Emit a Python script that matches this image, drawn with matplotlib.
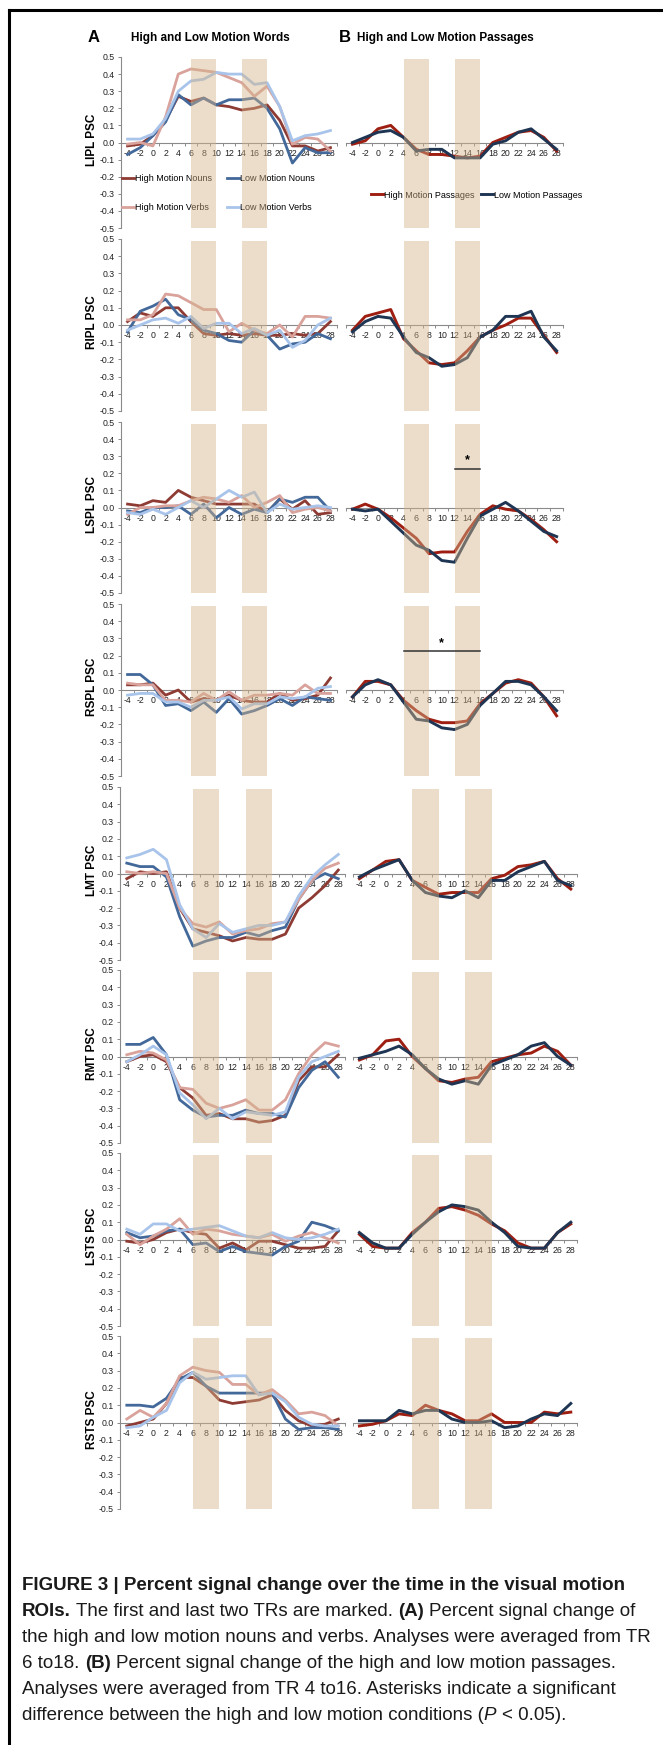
import matplotlib
matplotlib.use('Agg')
import matplotlib.pyplot as plt
from matplotlib.lines import Line2D

W, H = 663, 1745
FONT = 'Liberation Sans'
plt.rcParams['font.family'] = [FONT, 'DejaVu Sans']

# time points (TR)
tr = list(range(-4, 30, 2))
regions = ['LIPL', 'RIPL', 'LSPL', 'RSPL', 'LMT', 'RMT', 'LSTS', 'RSTS']

# --- words (A): high/low motion nouns and verbs;  passages (B): high/low ---
lipl_hn = [-0.02, -0.01, 0.04, 0.13, 0.27, 0.24, 0.26, 0.22, 0.21, 0.19, 0.20, 0.22, 0.13, -0.02, -0.02, -0.05, -0.03]
lipl_ln = [-0.07, -0.03, 0.04, 0.12, 0.28, 0.22, 0.26, 0.22, 0.25, 0.25, 0.26, 0.20, 0.08, -0.12, -0.03, -0.06, -0.06]
lipl_hv = [-0.01, 0.00, -0.02, 0.15, 0.40, 0.43, 0.42, 0.41, 0.38, 0.35, 0.27, 0.33, 0.21, -0.01, 0.03, 0.02, -0.05]
lipl_lv = [0.02, 0.02, 0.05, 0.14, 0.30, 0.36, 0.37, 0.41, 0.40, 0.40, 0.34, 0.35, 0.21, 0.01, 0.04, 0.05, 0.07]
lipl_hp = [-0.01, 0.01, 0.08, 0.10, 0.03, -0.04, -0.07, -0.07, -0.08, -0.09, -0.08, 0.00, 0.03, 0.06, 0.07, 0.03, -0.05]
lipl_lp = [0.00, 0.03, 0.06, 0.07, 0.03, -0.05, -0.04, -0.04, -0.09, -0.09, -0.09, -0.01, 0.01, 0.06, 0.08, 0.02, -0.04]

ripl_hn = [0.02, 0.07, 0.05, 0.10, 0.10, 0.02, -0.05, -0.06, -0.05, -0.06, -0.05, -0.06, -0.06, -0.05, -0.06, -0.05, 0.02]
ripl_ln = [-0.04, 0.08, 0.11, 0.15, 0.06, 0.03, -0.03, -0.05, -0.09, -0.10, -0.03, -0.06, -0.14, -0.11, -0.10, -0.05, -0.08]
ripl_hv = [0.03, 0.03, 0.06, 0.18, 0.17, 0.13, 0.09, 0.09, -0.04, 0.01, -0.03, -0.05, 0.00, -0.07, 0.05, 0.05, 0.04]
ripl_lv = [-0.03, 0.00, 0.03, 0.04, 0.01, 0.05, -0.02, 0.01, 0.01, -0.05, -0.02, -0.06, -0.03, -0.13, -0.09, 0.00, 0.04]
ripl_hp = [-0.03, 0.05, 0.07, 0.09, -0.08, -0.15, -0.22, -0.23, -0.22, -0.15, -0.07, -0.03, 0.00, 0.04, 0.04, -0.06, -0.16]
ripl_lp = [-0.04, 0.02, 0.05, 0.04, -0.07, -0.16, -0.19, -0.24, -0.23, -0.19, -0.07, -0.03, 0.05, 0.05, 0.08, -0.07, -0.15]

lspl_hn = [0.02, 0.01, 0.04, 0.03, 0.10, 0.06, 0.04, 0.02, 0.02, 0.02, 0.02, -0.03, 0.05, -0.01, 0.04, -0.04, -0.03]
lspl_ln = [-0.02, -0.03, 0.00, 0.00, 0.01, -0.04, 0.02, -0.06, 0.00, -0.04, -0.01, -0.03, 0.05, 0.03, 0.06, 0.06, -0.02]
lspl_hv = [-0.04, 0.00, 0.00, 0.01, 0.01, 0.04, 0.06, 0.05, 0.03, 0.07, 0.00, 0.03, 0.07, -0.03, -0.01, 0.00, -0.02]
lspl_lv = [-0.03, -0.04, -0.01, -0.04, 0.00, 0.04, 0.00, 0.05, 0.10, 0.06, 0.09, -0.03, 0.02, -0.01, 0.00, 0.01, 0.00]
lspl_hp = [-0.01, 0.02, -0.01, -0.06, -0.12, -0.18, -0.27, -0.26, -0.26, -0.14, -0.04, 0.01, -0.01, -0.02, -0.07, -0.13, -0.20]
lspl_lp = [-0.01, -0.02, -0.01, -0.08, -0.15, -0.22, -0.25, -0.31, -0.32, -0.18, -0.05, -0.01, 0.03, -0.02, -0.08, -0.14, -0.17]

rspl_hn = [0.03, 0.03, 0.04, -0.03, 0.00, -0.07, -0.05, -0.06, -0.03, -0.06, -0.07, -0.07, -0.02, -0.06, -0.05, -0.03, 0.07]
rspl_ln = [0.09, 0.09, 0.03, -0.09, -0.08, -0.12, -0.07, -0.13, -0.05, -0.14, -0.12, -0.09, -0.05, -0.09, -0.04, -0.05, -0.06]
rspl_hv = [0.04, 0.03, 0.03, -0.06, -0.06, -0.07, -0.02, -0.06, -0.01, -0.06, -0.03, -0.03, -0.02, -0.03, 0.03, -0.02, -0.02]
rspl_lv = [-0.03, -0.02, -0.02, -0.07, -0.07, -0.10, -0.06, -0.06, -0.04, -0.11, -0.08, -0.08, -0.04, -0.05, -0.04, 0.01, 0.02]
rspl_hp = [-0.04, 0.05, 0.05, 0.03, -0.06, -0.12, -0.17, -0.19, -0.19, -0.18, -0.08, -0.02, 0.04, 0.06, 0.04, -0.04, -0.15]
rspl_lp = [-0.04, 0.03, 0.06, 0.03, -0.07, -0.17, -0.18, -0.22, -0.23, -0.20, -0.09, -0.02, 0.05, 0.05, 0.03, -0.04, -0.12]

lmt_hn = [-0.03, 0.01, 0.00, 0.01, -0.20, -0.32, -0.34, -0.36, -0.39, -0.37, -0.38, -0.38, -0.35, -0.20, -0.14, -0.07, 0.02]
lmt_ln = [0.06, 0.04, 0.04, -0.02, -0.25, -0.42, -0.39, -0.37, -0.37, -0.34, -0.36, -0.33, -0.31, -0.15, -0.04, 0.00, -0.03]
lmt_hv = [0.01, 0.00, 0.01, 0.00, -0.20, -0.29, -0.31, -0.28, -0.35, -0.33, -0.32, -0.29, -0.28, -0.15, -0.04, 0.03, 0.06]
lmt_lv = [0.09, 0.11, 0.14, 0.08, -0.18, -0.32, -0.37, -0.29, -0.34, -0.32, -0.30, -0.30, -0.28, -0.13, -0.02, 0.05, 0.11]
lmt_hp = [-0.03, 0.02, 0.07, 0.08, -0.04, -0.08, -0.12, -0.11, -0.11, -0.11, -0.03, -0.01, 0.04, 0.05, 0.07, -0.03, -0.09]
lmt_lp = [-0.02, 0.02, 0.05, 0.08, -0.04, -0.11, -0.13, -0.14, -0.10, -0.14, -0.04, -0.04, 0.01, 0.04, 0.07, -0.04, -0.07]

rmt_hn = [-0.03, 0.00, 0.01, -0.03, -0.18, -0.24, -0.34, -0.33, -0.36, -0.36, -0.38, -0.37, -0.34, -0.14, -0.06, -0.06, 0.01]
rmt_ln = [0.07, 0.07, 0.11, 0.01, -0.25, -0.31, -0.35, -0.34, -0.34, -0.31, -0.33, -0.33, -0.35, -0.18, -0.08, -0.03, -0.12]
rmt_hv = [0.01, 0.03, 0.02, -0.02, -0.18, -0.19, -0.27, -0.30, -0.28, -0.25, -0.31, -0.31, -0.25, -0.10, 0.01, 0.08, 0.06]
rmt_lv = [-0.03, 0.01, 0.06, 0.01, -0.21, -0.28, -0.36, -0.30, -0.36, -0.32, -0.33, -0.34, -0.32, -0.12, -0.03, 0.00, 0.03]
rmt_hp = [-0.02, 0.01, 0.09, 0.10, 0.00, -0.07, -0.14, -0.15, -0.13, -0.12, -0.03, -0.01, 0.01, 0.02, 0.06, 0.03, -0.05]
rmt_lp = [-0.01, 0.01, 0.03, 0.06, 0.01, -0.07, -0.13, -0.16, -0.14, -0.16, -0.05, -0.02, 0.01, 0.06, 0.08, 0.00, -0.05]

lsts_hn = [-0.01, -0.02, 0.00, 0.04, 0.06, 0.04, 0.03, -0.05, -0.02, -0.06, -0.01, -0.01, -0.03, -0.05, -0.05, -0.04, 0.05]
lsts_ln = [0.04, 0.01, 0.02, 0.05, 0.06, -0.03, -0.02, -0.07, -0.04, -0.07, -0.08, -0.09, -0.04, -0.01, 0.10, 0.08, 0.05]
lsts_hv = [0.03, -0.03, 0.02, 0.06, 0.12, 0.03, 0.06, 0.05, 0.03, 0.02, 0.01, 0.03, -0.01, 0.02, 0.04, 0.01, -0.02]
lsts_lv = [0.06, 0.03, 0.09, 0.09, 0.05, 0.06, 0.07, 0.08, 0.05, 0.02, 0.01, 0.04, 0.01, 0.00, 0.01, 0.03, 0.06]
lsts_hp = [0.03, -0.04, -0.05, -0.05, 0.04, 0.10, 0.18, 0.19, 0.17, 0.14, 0.09, 0.05, -0.02, -0.05, -0.05, 0.04, 0.09]
lsts_lp = [0.04, -0.02, -0.05, -0.05, 0.03, 0.10, 0.16, 0.20, 0.19, 0.17, 0.10, 0.04, -0.04, -0.05, -0.05, 0.04, 0.10]

rsts_hn = [-0.02, 0.00, 0.02, 0.11, 0.26, 0.26, 0.21, 0.13, 0.11, 0.12, 0.13, 0.16, 0.07, 0.01, -0.02, -0.01, 0.02]
rsts_ln = [0.10, 0.10, 0.09, 0.14, 0.25, 0.29, 0.21, 0.17, 0.17, 0.17, 0.17, 0.17, 0.02, -0.04, -0.03, -0.03, -0.04]
rsts_hv = [0.02, 0.07, 0.03, 0.11, 0.27, 0.32, 0.30, 0.29, 0.22, 0.22, 0.16, 0.19, 0.13, 0.05, 0.06, 0.04, -0.02]
rsts_lv = [-0.03, -0.02, 0.03, 0.07, 0.23, 0.29, 0.25, 0.26, 0.27, 0.27, 0.16, 0.17, 0.12, 0.03, -0.01, -0.02, -0.02]
rsts_hp = [-0.02, -0.01, 0.01, 0.05, 0.04, 0.10, 0.07, 0.05, 0.01, 0.01, 0.05, 0.00, 0.00, 0.00, 0.06, 0.05, 0.06]
rsts_lp = [0.01, 0.01, 0.01, 0.07, 0.05, 0.07, 0.07, 0.02, 0.00, 0.00, 0.01, -0.03, -0.02, 0.02, 0.05, 0.04, 0.11]

words = [
    (lipl_hn, lipl_ln, lipl_hv, lipl_lv),
    (ripl_hn, ripl_ln, ripl_hv, ripl_lv),
    (lspl_hn, lspl_ln, lspl_hv, lspl_lv),
    (rspl_hn, rspl_ln, rspl_hv, rspl_lv),
    (lmt_hn, lmt_ln, lmt_hv, lmt_lv),
    (rmt_hn, rmt_ln, rmt_hv, rmt_lv),
    (lsts_hn, lsts_ln, lsts_hv, lsts_lv),
    (rsts_hn, rsts_ln, rsts_hv, rsts_lv),
]
passages = [
    (lipl_hp, lipl_lp), (ripl_hp, ripl_lp), (lspl_hp, lspl_lp), (rspl_hp, rspl_lp),
    (lmt_hp, lmt_lp), (rmt_hp, rmt_lp), (lsts_hp, lsts_lp), (rsts_hp, rsts_lp),
]
word_labels = ['High Motion Nouns', 'Low Motion Nouns', 'High Motion Verbs', 'Low Motion Verbs']
passage_labels = ['High Motion Passages', 'Low Motion Passages']

# analysis windows
words_windows = [(6, 10), (14, 18)]
passage_windows = [(4, 8), (12, 16)]

# significance bars in panel B: row index, start TR, end TR
sig_rows = [2, 3]
sig_start = [12, 4]
sig_end = [16, 16]

word_colors = ['#8e3b33', '#43689a', '#d9a29b', '#a8c4ea']
passage_colors = ['#9e1f12', '#1e3553']
shade_color = '#d4b48a'
axis_gray = '#8a8a8a'

# panel layout in pixels
row_top = [57, 239, 422, 604, 787, 970, 1153, 1336]
row_bot = [228, 411, 593, 776, 960, 1143, 1326, 1509]
left_x = [(121.2, 336.8)] * 4 + [(120.2, 344.9)] * 4
right_x = [(346.1, 563.0)] * 4 + [(352.8, 577.4)] * 4

fig = plt.figure(figsize=(W / 100, H / 100), dpi=100)


def make_ax(xr, top, bot):
    return fig.add_axes([xr[0] / W, 1 - bot / H, (xr[1] - xr[0]) / W, (bot - top) / H])


def style_ax(ax, with_y):
    ax.set_xlim(-5, 29)
    ax.set_ylim(-0.5, 0.5)
    ax.patch.set_alpha(0)
    ax.spines['top'].set_visible(False)
    ax.spines['right'].set_visible(False)
    ax.spines['bottom'].set_position(('data', 0))
    ax.spines['bottom'].set_color(axis_gray)
    ax.spines['bottom'].set_linewidth(0.8)
    ax.set_xticks(tr)
    ax.set_xticklabels([str(t) for t in tr])
    ax.set_xticks(list(range(-5, 30, 2)), minor=True)
    ax.tick_params(axis='x', which='major', length=0, pad=4.5, labelsize=6.3, labelcolor='#222222')
    ax.tick_params(axis='x', which='minor', length=2.5, direction='out', color=axis_gray, width=0.7)
    if with_y:
        ax.spines['left'].set_color(axis_gray)
        ax.spines['left'].set_linewidth(0.8)
        yt = [round(-0.5 + 0.1 * i, 1) for i in range(11)]
        ax.set_yticks(yt)
        ax.set_yticklabels(['%.1f' % (v + 0.0) for v in yt])
        ax.tick_params(axis='y', length=2.5, direction='out', color=axis_gray, width=0.7,
                       labelsize=6.3, labelcolor='#222222', pad=2)
    else:
        ax.spines['left'].set_visible(False)
        ax.set_yticks([])


for r in range(8):
    axl = make_ax(left_x[r], row_top[r], row_bot[r])
    style_ax(axl, True)
    handles = []
    for series, col in zip(words[r], word_colors):
        ln, = axl.plot(tr, series, color=col, lw=2.0, zorder=3)
        handles.append(ln)
    for a, b in words_windows:
        axl.axvspan(a, b, ymin=0.0, ymax=0.99, color=shade_color, alpha=0.45, lw=0, zorder=5)
    fig.text(92 / W, 1 - ((row_top[r] + row_bot[r]) / 2 - 3) / H, regions[r] + ' PSC',
             rotation=90, ha='center', va='center', fontsize=8.5, fontweight='bold')

    axr = make_ax(right_x[r], row_top[r], row_bot[r])
    style_ax(axr, False)
    handles_p = []
    for series, col in zip(passages[r], passage_colors):
        ln, = axr.plot(tr, series, color=col, lw=2.1, zorder=3)
        handles_p.append(ln)
    for a, b in passage_windows:
        axr.axvspan(a, b, ymin=0.0, ymax=0.99, color=shade_color, alpha=0.45, lw=0, zorder=5)

    if r in sig_rows:
        i = sig_rows.index(r)
        axr.plot([sig_start[i], sig_end[i]], [0.228, 0.228], color='#333333', lw=1.1, zorder=6)
        axr.text((sig_start[i] + sig_end[i]) / 2, 0.24, '*', ha='center', va='bottom',
                 fontsize=9, fontweight='bold', zorder=6)

    if r == 0:
        order = [0, 2, 1, 3]
        leg = axl.legend([handles[i] for i in order], [word_labels[i] for i in order], ncol=2,
                         loc='center left', bbox_to_anchor=(122 / W, 1 - 193 / H),
                         bbox_transform=fig.transFigure, frameon=False, fontsize=6.5,
                         handlelength=1.3, handletextpad=0.1, columnspacing=1.7,
                         labelspacing=2.2, borderpad=0, borderaxespad=0)
        leg.set_zorder(4)
        legp = axr.legend(handles_p, passage_labels, ncol=2, loc='center left',
                          bbox_to_anchor=(371 / W, 1 - 195 / H), bbox_transform=fig.transFigure,
                          frameon=False, fontsize=6.5, handlelength=1.3, handletextpad=0.1,
                          columnspacing=0.8, borderpad=0, borderaxespad=0)
        legp.set_zorder(4)

# panel headings
fig.text(88 / W, 1 - 38 / H, 'A', fontsize=12, fontweight='bold', va='center')
fig.text(131 / W, 1 - 38 / H, 'High and Low Motion Words', fontsize=8.5, fontweight='bold', va='center')
fig.text(339 / W, 1 - 38 / H, 'B', fontsize=12, fontweight='bold', va='center')
fig.text(357 / W, 1 - 38 / H, 'High and Low Motion Passages', fontsize=8.5, fontweight='bold', va='center')

# frame lines (left and top)
fig.add_artist(Line2D([8.5 / W, 8.5 / W], [0, 1 - 9.5 / H], color='black', lw=2.2))
fig.add_artist(Line2D([8.5 / W, 1], [1 - 9.5 / H, 1 - 9.5 / H], color='black', lw=2.2))

# caption with mixed styles
renderer = fig.canvas.get_renderer()


def seg_width(txt, size, wt, st):
    t = fig.text(0, 0, txt, fontsize=size, fontweight=wt, fontstyle=st)
    w = t.get_window_extent(renderer).width
    t.remove()
    return w


def space_width(size, wt, st):
    return seg_width('x x', size, wt, st) - seg_width('xx', size, wt, st)


def line_width(parts, size):
    total = 0
    for txt, wt, st in parts:
        core = txt.strip(' ')
        nsp = len(txt) - len(txt.lstrip(' ')) + len(txt) - len(txt.rstrip(' '))
        total += seg_width(core, size, wt, st) + nsp * space_width(size, wt, st)
    return total


def draw_line(parts, size, x0, y):
    x = x0
    for txt, wt, st in parts:
        lead = len(txt) - len(txt.lstrip(' '))
        trail = len(txt) - len(txt.rstrip(' '))
        core = txt.strip(' ')
        sw = space_width(size, wt, st)
        x += lead * sw
        fig.text(x / W, 1 - y / H, core, fontsize=size, fontweight=wt, fontstyle=st,
                 va='center', ha='left', color='#1a1a1a')
        x += seg_width(core, size, wt, st) + trail * sw


B, R, N, I = 'bold', 'normal', 'normal', 'italic'
cap_lines = [
    [('FIGURE 3 | Percent signal change over the time in the visual motion', B, N)],
    [('ROIs.', B, N), (' The first and last two TRs are marked. ', R, N), ('(A)', B, N),
     (' Percent signal change of', R, N)],
    [('the high and low motion nouns and verbs. Analyses were averaged from TR', R, N)],
    [('6 to18. ', R, N), ('(B)', B, N), (' Percent signal change of the high and low motion passages.', R, N)],
    [('Analyses were averaged from TR 4 to16. Asterisks indicate a significant', R, N)],
    [('difference between the high and low motion conditions (', R, N), ('P', R, I), (' < 0.05).', R, N)],
]
cap_y = [1585, 1611, 1637, 1663, 1689, 1715]
x_start = 22
reg_size = 12 * 630 / line_width(cap_lines[2], 12)
bold_size = 12 * 601 / line_width(cap_lines[0], 12)
for k, parts in enumerate(cap_lines):
    draw_line(parts, bold_size if k == 0 else reg_size, x_start, cap_y[k])

fig.savefig('out.png', dpi=100)
